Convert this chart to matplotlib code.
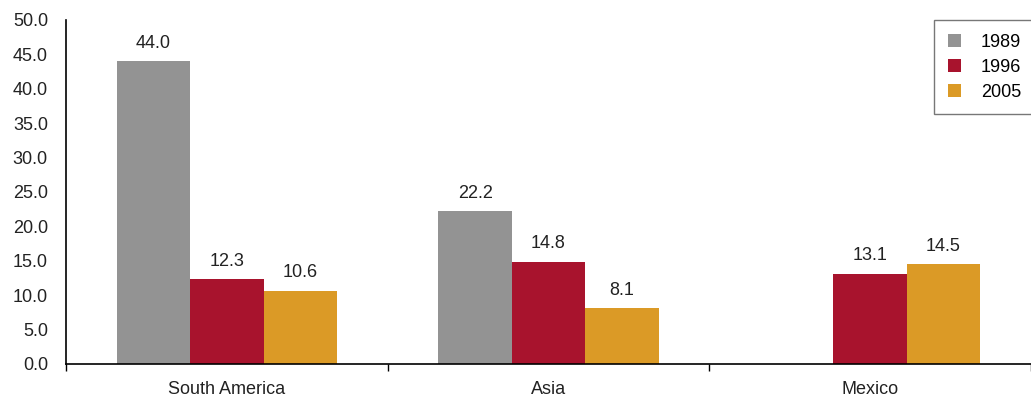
import matplotlib.pyplot as plt
import numpy as np

regions = ['South America', 'Asia', 'Mexico']
years = ['1989', '1996', '2005']
v1989 = [44.0, 22.2, np.nan]
v1996 = [12.3, 14.8, 13.1]
v2005 = [10.6, 8.1, 14.5]
colors = ['#939393', '#A8132D', '#DB9A26']

plt.rcParams['font.family'] = ['Liberation Sans', 'DejaVu Sans']
plt.rcParams['font.size'] = 13

fig = plt.figure(figsize=(10.31, 3.98), dpi=100)
ax = fig.add_axes([66 / 1031, 34 / 398, 965 / 1031, 344 / 398])

x = np.arange(len(regions))
w = 0.228
for i, (vals, yr) in enumerate(zip([v1989, v1996, v2005], years)):
    pos = x + (i - 1) * w
    ax.bar(pos, vals, w, color=colors[i], label=yr)
    for p, v in zip(pos, vals):
        if np.isnan(v):
            continue
        ax.annotate('{:.1f}'.format(v), (p, v), xytext=(0, 7), textcoords='offset points',
                    ha='center', va='bottom', color='#222222')

ax.set_xlim(-0.5, 2.5)
ax.set_ylim(0, 50)
ax.set_yticks(np.arange(0, 50.1, 5))
ax.set_yticklabels(['{:.1f}'.format(t) for t in np.arange(0, 50.1, 5)], color='#222222')
ax.tick_params(axis='y', length=0, pad=13)
ax.set_xticks(x)
ax.set_xticklabels(regions, color='#222222')
ax.set_xticks([-0.5, 0.5, 1.5, 2.5], minor=True)
ax.tick_params(axis='x', which='major', length=0, pad=12)
ax.tick_params(axis='x', which='minor', length=5, width=1, direction='out')
for s in ['top', 'right']:
    ax.spines[s].set_visible(False)
ax.spines['left'].set_linewidth(1.2)
ax.spines['bottom'].set_linewidth(1.2)

leg = ax.legend(loc='upper right', bbox_to_anchor=(1.004, 1.0), fancybox=False,
                frameon=True, handlelength=0.75, handleheight=0.75, handletextpad=1.1,
                borderpad=0.75, labelspacing=0.45, borderaxespad=0)
leg.get_frame().set_edgecolor('#555555')
leg.get_frame().set_linewidth(1.0)

fig.savefig('out.png', dpi=100)
